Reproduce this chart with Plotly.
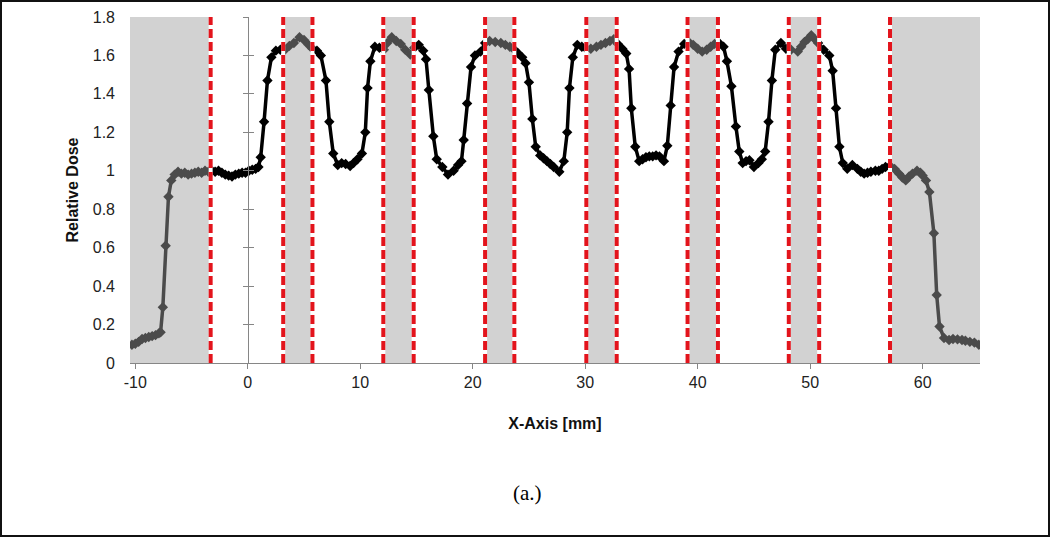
import plotly.graph_objects as go

# Dose profile
x_mm = [
    -10.3, -10.0, -9.7, -9.4, -9.1, -8.8, -8.5, -8.2, -7.9, -7.75, -7.55, -7.3, -7.05, -6.8, -6.5,
    -6.2, -5.9, -5.6, -5.3, -5.0, -4.7, -4.4, -4.1, -3.8, -3.5, -3.2,
    -2.9, -2.6, -2.3, -2.0, -1.7, -1.4, -1.1, -0.8, -0.5, -0.2, 0.1, 0.4, 0.7, 0.95, 1.15, 1.45,
    1.75, 2.1, 2.5, 2.9, 3.3, 3.7, 4.1, 4.6, 5.0, 5.4, 5.75, 6.15, 6.5, 6.95, 7.25, 7.6, 8.0,
    8.35, 8.7, 9.1, 9.4, 9.75, 10.15, 10.45, 10.65, 10.9, 11.3, 11.7, 12.1, 12.4, 12.8, 13.2,
    13.6, 14.0, 14.45, 14.8, 15.2, 15.6, 15.85, 16.1, 16.5, 16.8, 17.3, 17.8, 18.3, 18.7, 19.0,
    19.2, 19.5, 19.85, 20.2, 20.7, 21.1, 21.5, 22.0, 22.5, 22.9, 23.3, 23.7, 24.05, 24.4, 24.7,
    25.0, 25.3, 25.6, 26.0, 26.3, 26.6, 26.9, 27.2, 27.7, 28.1, 28.4, 28.6, 28.9, 29.3, 29.7,
    30.1, 30.5, 31.0, 31.4, 31.8, 32.2, 32.55, 32.9, 33.3, 33.65, 33.9, 34.1, 34.45, 34.8, 35.1,
    35.4, 35.7, 36.0, 36.3, 36.6, 37.0, 37.3, 37.6, 37.9, 38.3, 38.8, 39.2, 39.6, 40.0, 40.4,
    40.8, 41.15, 41.5, 41.9, 42.3, 42.6, 43.0, 43.4, 43.7, 44.0, 44.3, 44.6, 45.0, 45.4, 45.7,
    46.0, 46.3, 46.6, 46.9, 47.4, 47.85, 48.3, 48.9, 49.2, 49.5, 49.8, 50.1, 50.4, 50.7, 51.2,
    51.7, 52.0, 52.3, 52.6, 52.9, 53.3, 53.75, 54.2, 54.5, 54.8, 55.1, 55.4, 55.8, 56.1, 56.4,
    56.7, 57.1, 57.5, 57.9, 58.2, 58.5, 58.8, 59.1, 59.5, 59.8, 60.0, 60.3, 60.6, 61.0, 61.25,
    61.5, 61.9, 62.35, 62.7, 63.1, 63.5, 63.8, 64.2, 64.6, 65.0,
]
dose = [
    0.095, 0.10, 0.11, 0.125, 0.13, 0.135, 0.14, 0.145, 0.155, 0.16, 0.29, 0.61, 0.865, 0.95, 0.98,
    0.995, 0.985, 0.99, 0.98, 0.985, 0.99, 0.995, 0.99, 1.0, 0.995, 1.0,
    0.995, 1.0, 0.99, 0.98, 0.975, 0.97, 0.98, 0.985, 0.99, 0.99, 1.0, 1.005, 1.01, 1.02, 1.07, 1.255,
    1.47, 1.59, 1.625, 1.63, 1.63, 1.65, 1.665, 1.695, 1.68, 1.655, 1.635, 1.625, 1.60, 1.47, 1.255, 1.09, 1.03,
    1.04, 1.035, 1.025, 1.04, 1.06, 1.09, 1.20, 1.43, 1.57, 1.645, 1.64, 1.63, 1.665, 1.695, 1.675,
    1.66, 1.63, 1.605, 1.64, 1.655, 1.625, 1.58, 1.42, 1.18, 1.06, 1.02, 0.98, 1.0, 1.03, 1.05,
    1.16, 1.35, 1.54, 1.60, 1.62, 1.665, 1.675, 1.67, 1.665, 1.655, 1.645, 1.63, 1.61, 1.59, 1.56,
    1.46, 1.27, 1.125, 1.08, 1.065, 1.05, 1.035, 1.02, 0.995, 1.05, 1.20, 1.43, 1.59, 1.655, 1.645,
    1.635, 1.635, 1.645, 1.655, 1.665, 1.675, 1.685, 1.66, 1.635, 1.61, 1.53, 1.325, 1.125, 1.05, 1.06,
    1.07, 1.075, 1.075, 1.08, 1.075, 1.05, 1.13, 1.34, 1.54, 1.62, 1.66, 1.67, 1.655, 1.635, 1.62,
    1.63, 1.645, 1.66, 1.665, 1.645, 1.57, 1.44, 1.23, 1.10, 1.04, 1.05, 1.055, 1.02, 1.04, 1.06,
    1.10, 1.255, 1.47, 1.63, 1.665, 1.635, 1.63, 1.62, 1.645, 1.67, 1.685, 1.705, 1.685, 1.665, 1.63,
    1.60, 1.52, 1.325, 1.125, 1.04, 1.01, 1.03, 1.01, 0.995, 0.985, 0.99, 0.995, 1.0, 1.0, 1.01,
    1.02, 1.025, 1.01, 0.985, 0.965, 0.95, 0.97, 0.985, 1.0, 0.99, 0.975, 0.95, 0.89, 0.675, 0.354,
    0.19, 0.13, 0.12, 0.125, 0.123, 0.12, 0.116, 0.11, 0.106, 0.095,
]

# dashed boundaries (mm); shaded bands lie between consecutive pairs
boundary_mm = [-3.3, 3.15, 5.75, 12.05, 14.75, 21.1, 23.7, 30.1, 32.8, 39.1, 41.8, 48.1, 50.8, 57.1]
x_ticks = [-10, 0, 10, 20, 30, 40, 50, 60]
x_tick_text = ["-10", "0", "10", "20", "30", "40", "50", "60"]

X_RANGE = [-10.47, 65.1]
Y_RANGE = [0, 1.8]
W, H = 1050, 537
ML, MR, MT, MB = 130, 70, 17, 174
PW, PH = W - ML - MR, H - MT - MB

tick_font = dict(family="Liberation Sans Narrow, Arial Narrow, Liberation Sans, sans-serif", size=16, color="#222222")
title_font = dict(family="Liberation Sans Narrow, Arial Narrow, Liberation Sans, sans-serif", size=16, color="#111111")

fig = go.Figure()
fig.add_trace(go.Scatter(
    x=x_mm, y=dose, mode="lines+markers",
    line=dict(color="black", width=3.5),
    marker=dict(symbol="diamond", size=8, color="black"),
    showlegend=False, hoverinfo="x+y",
))

# shaded bands: left of first line, between pairs, right of last line
edges = [X_RANGE[0]] + boundary_mm + [X_RANGE[1]]
for i in range(0, len(edges), 2):
    fig.add_shape(type="rect", xref="x", yref="y", x0=edges[i], x1=edges[i + 1],
                  y0=Y_RANGE[0], y1=Y_RANGE[1], fillcolor="rgba(160,160,160,0.47)",
                  line=dict(width=0), layer="above")

for b in boundary_mm:
    fig.add_shape(type="line", xref="x", yref="y", x0=b, x1=b, y0=Y_RANGE[0], y1=Y_RANGE[1],
                  line=dict(color="white", width=4), layer="above")
    fig.add_shape(type="line", xref="x", yref="y", x0=b, x1=b, y0=Y_RANGE[0], y1=Y_RANGE[1],
                  line=dict(color="#e3141c", width=4, dash="9px,4px"), layer="above")

# outer frame around the whole picture
fig.add_shape(type="rect", xref="paper", yref="paper",
              x0=(1 - ML) / PW, x1=(W - 1 - ML) / PW,
              y0=-(H - 1 - MT - PH) / PH, y1=(PH + MT - 1) / PH,
              line=dict(color="#111111", width=2), fillcolor="rgba(0,0,0,0)", layer="above")

yaxis_pos = (0 - X_RANGE[0]) / (X_RANGE[1] - X_RANGE[0])
axis_common = dict(range=Y_RANGE, dtick=0.2, showgrid=False, zeroline=False, automargin=False)

fig.update_layout(
    width=W, height=H,
    margin=dict(l=ML, r=MR, t=MT, b=MB),
    paper_bgcolor="white", plot_bgcolor="white",
    xaxis=dict(range=X_RANGE, tickvals=x_ticks, ticktext=x_tick_text, showgrid=False, zeroline=False,
               showline=True, linecolor="#868686", linewidth=1, automargin=False,
               ticks="outside", ticklen=5, tickcolor="#868686",
               tickfont=tick_font,
               title=dict(text="<b>X-Axis [mm]</b>", font=title_font, standoff=27)),
    yaxis=dict(**axis_common, showline=False, ticks="", tickfont=tick_font,
               ticklabelstandoff=14,
               title=dict(text="<b>Relative Dose</b>", font=title_font, standoff=10)),
    yaxis2=dict(**axis_common, overlaying="y", anchor="free", position=yaxis_pos,
                showline=True, linecolor="#868686", linewidth=1, ticks="outside",
                ticklen=5, tickcolor="#868686", showticklabels=False),
    yaxis3=dict(**axis_common, overlaying="y", anchor="free", position=yaxis_pos,
                showline=False, ticks="inside", ticklen=5, tickcolor="#868686",
                showticklabels=False),
    annotations=[dict(text="(a.)", xref="paper", yref="paper",
                      x=(527 - ML) / PW, y=(PH + MT - 493) / PH,
                      showarrow=False, xanchor="center", yanchor="middle",
                      font=dict(family="Liberation Serif, Times New Roman, serif", size=21, color="black"))],
)

# invisible traces so the crossing y-axis at x=0 is drawn
for ax in ["y2", "y3"]:
    fig.add_trace(go.Scatter(x=[None], y=[None], yaxis=ax, showlegend=False, hoverinfo="skip"))

# drop the default page margin so the figure fills the window
fig.write_html("out.html", config={"displayModeBar": False},
               post_script="document.body.style.margin='0px';")
